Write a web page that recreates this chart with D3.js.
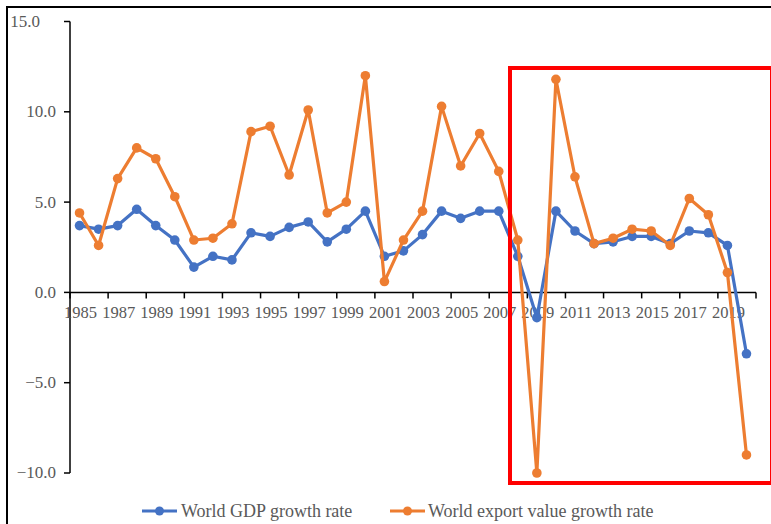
<!DOCTYPE html>
<html>
<head>
<meta charset="utf-8">
<script src="https://cdn.jsdelivr.net/npm/d3@7"></script>
<style>
  html, body { margin: 0; padding: 0; background: #fff; }
  svg { display: block; }
  text { font-family: "Liberation Serif", "Times New Roman", serif; }
</style>
</head>
<body>
<script>
const years = [];
for (let y = 1985; y <= 2020; y++) years.push(String(y));

const gdpGrowth = [3.7, 3.5, 3.7, 4.6, 3.7, 2.9, 1.4, 2.0, 1.8, 3.3, 3.1, 3.6, 3.9, 2.8, 3.5, 4.5,
  2.0, 2.3, 3.2, 4.5, 4.1, 4.5, 4.5, 2.0, -1.4, 4.5, 3.4, 2.7, 2.8, 3.1, 3.1, 2.7, 3.4, 3.3, 2.6, -3.4];
const exportGrowth = [4.4, 2.6, 6.3, 8.0, 7.4, 5.3, 2.9, 3.0, 3.8, 8.9, 9.2, 6.5, 10.1, 4.4, 5.0, 12.0,
  0.6, 2.9, 4.5, 10.3, 7.0, 8.8, 6.7, 2.9, -10.0, 11.8, 6.4, 2.7, 3.0, 3.5, 3.4, 2.6, 5.2, 4.3, 1.1, -9.0];
const yTicks = [-10, -5, 0, 5, 10, 15];
const seriesNames = ["World GDP growth rate", "World export value growth rate"];
const seriesColors = ["#4472C4", "#ED7D31"];

const W = 771, H = 524;
const svg = d3.select("body").append("svg").attr("width", W).attr("height", H);

// outer frame
svg.append("rect").attr("x", 7).attr("y", 7).attr("width", W).attr("height", H)
  .attr("fill", "none").attr("stroke", "#000").attr("stroke-width", 2);

const x = d3.scaleBand().domain(years).range([70, 756]).padding(0);
const y = d3.scaleLinear().domain([-10, 15]).range([473, 21.5]);
const xc = d => x(d) + x.bandwidth() / 2;

// Y axis
const yAxis = svg.append("g");
yAxis.append("line").attr("x1", 70).attr("x2", 70).attr("y1", y(15)).attr("y2", y(-10))
  .attr("stroke", "#000").attr("stroke-width", 1.5);
yAxis.selectAll("line.tick").data(yTicks).enter().append("line")
  .attr("x1", 64).attr("x2", 70).attr("y1", d => y(d)).attr("y2", d => y(d))
  .attr("stroke", "#000").attr("stroke-width", 1.5);
yAxis.selectAll("text").data(yTicks).enter().append("text")
  .attr("x", d => d === 15 ? 40 : 56).attr("y", d => y(d)).attr("dy", "0.32em")
  .attr("text-anchor", "end").attr("font-size", 17).attr("fill", "#595959")
  .text(d => d3.format(".1f")(d));

// X axis at 0
const xAxis = svg.append("g");
xAxis.append("line").attr("x1", 70).attr("x2", 756).attr("y1", y(0)).attr("y2", y(0))
  .attr("stroke", "#000").attr("stroke-width", 1.5);
const tickIdx = d3.range(0, years.length + 1, 2);
xAxis.selectAll("line.tick").data(tickIdx).enter().append("line")
  .attr("x1", i => 70 + i * x.bandwidth()).attr("x2", i => 70 + i * x.bandwidth())
  .attr("y1", y(0)).attr("y2", y(0) + 6)
  .attr("stroke", "#000").attr("stroke-width", 1.5);
xAxis.selectAll("text").data(years.filter((d, i) => i % 2 === 0)).enter().append("text")
  .attr("x", d => xc(d) + 1).attr("y", y(0) + 26)
  .attr("text-anchor", "middle").attr("font-size", 16.5).attr("fill", "#595959")
  .text(d => d);

// series
const allSeries = [gdpGrowth, exportGrowth];
const line = d3.line().x((d, i) => xc(years[i])).y(d => y(d));
allSeries.forEach((vals, s) => {
  const g = svg.append("g");
  g.append("path").datum(vals).attr("d", line).attr("fill", "none")
    .attr("stroke", seriesColors[s]).attr("stroke-width", 3.2).attr("stroke-linejoin", "round");
  g.selectAll("circle").data(vals).enter().append("circle")
    .attr("cx", (d, i) => xc(years[i])).attr("cy", d => y(d)).attr("r", 4.8)
    .attr("fill", seriesColors[s]);
});

// red highlight box
svg.append("rect").attr("x", 510).attr("y", 68).attr("width", 262).attr("height", 415)
  .attr("fill", "none").attr("stroke", "#FF0000").attr("stroke-width", 4);

// legend
const legendItems = [{x: 142, tx: 181}, {x: 390, tx: 428}];
legendItems.forEach((p, s) => {
  const g = svg.append("g");
  g.append("line").attr("x1", p.x).attr("x2", p.x + 35).attr("y1", 511).attr("y2", 511)
    .attr("stroke", seriesColors[s]).attr("stroke-width", 3);
  g.append("circle").attr("cx", p.x + 17.5).attr("cy", 511).attr("r", 4.5).attr("fill", seriesColors[s]);
  g.append("text").attr("x", p.tx).attr("y", 511).attr("dy", "0.32em")
    .attr("font-size", 18).attr("fill", "#595959").text(seriesNames[s]);
});
</script>
</body>
</html>
